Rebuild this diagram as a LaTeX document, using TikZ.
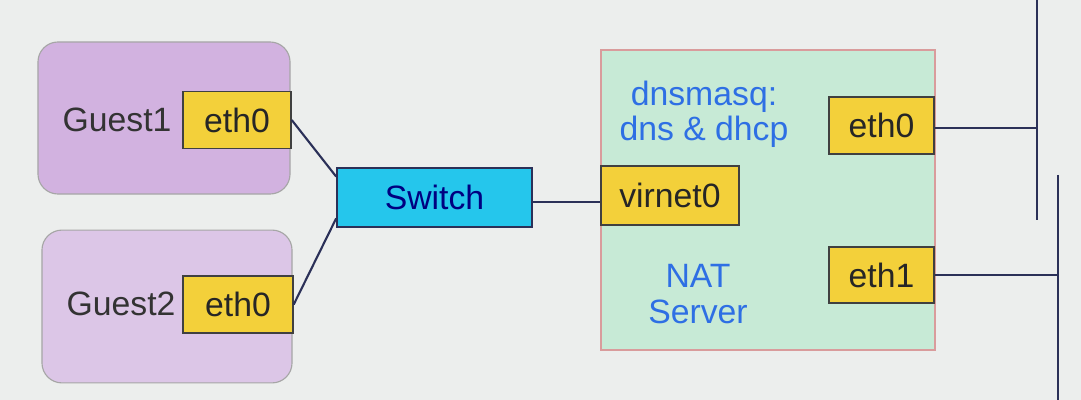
\documentclass[tikz,border=0pt]{standalone}
\usepackage{fontspec}
\setmainfont{Liberation Sans}
\definecolor{bgwall}{HTML}{ECEEED}
\definecolor{guestfill}{HTML}{D2B2E0}
\definecolor{guestfilltwo}{HTML}{DCC6E7}
\definecolor{ifyellow}{HTML}{F3D03A}
\definecolor{swcyan}{HTML}{25C6EC}
\definecolor{natfill}{HTML}{C7EAD6}
\definecolor{natedge}{HTML}{D99C9C}
\definecolor{labelblue}{HTML}{2E6FE4}
\definecolor{wire}{HTML}{2B3058}
\begin{document}
\begin{tikzpicture}[x=0.025cm,y=-0.025cm,
		font=\fontsize{24}{28}\selectfont,
		guestbox/.style={rectangle,rounded corners=0.5cm,draw=gray!70,line width=0.8pt,fill=guestfill},
		iface/.style={rectangle,draw=black!75,line width=1pt,fill=ifyellow,text=black!85,inner sep=0pt},
		wire/.style={draw=wire,line width=1.5pt},
		bus/.style={draw=wire,line width=2pt}]
		\fill[bgwall] (0,0) rectangle (1081,400);
		\useasboundingbox (0,0) rectangle (1081,400);
		% guests
		\node[guestbox,minimum width=6.3cm,minimum height=3.8cm] (g1) at (164,118) {};
		\node[guestbox,fill=guestfilltwo,minimum width=6.25cm,minimum height=3.82cm] (g2) at (167,306.5) {};
		\node[text=black!80] (g1name) at (117,120) {Guest1};
		\node[text=black!80] (g2name) at (121,304) {Guest2};
		\node[iface,minimum width=2.7cm,minimum height=1.42cm] (g1eth) at (237,120) {eth0};
		\node[iface,minimum width=2.75cm,minimum height=1.42cm] (g2eth) at (238,304.5) {eth0};
		% switch
		\node[rectangle,draw=wire,line width=1pt,fill=swcyan,text=blue!50!black,
			minimum width=4.88cm,minimum height=1.48cm] (sw) at (434.5,197.5) {Switch};
		% nat server
		\node[rectangle,draw=natedge,line width=0.8pt,fill=natfill,
			minimum width=8.35cm,minimum height=7.5cm] (nat) at (768,200) {};
		\node[text=labelblue,align=center] (dns) at (704,114) {dnsmasq:\\[-0.1cm]dns \& dhcp};
		\node[text=labelblue,align=center] (natname) at (698,294) {NAT\\[-0.1cm]Server};
		\node[iface,minimum width=3.45cm,minimum height=1.48cm] (vir) at (670,195.5) {virnet0};
		\node[iface,minimum width=2.62cm,minimum height=1.42cm] (n0) at (881.5,125.5) {eth0};
		\node[iface,minimum width=2.62cm,minimum height=1.4cm] (n1) at (881.5,275) {eth1};
		% wires
		\draw[wire] (g1eth.east) -- (sw.168);
		\draw[wire] (g2eth.east) -- (sw.192);
		\draw[wire] ([yshift=-0.11cm]sw.east) -- ([yshift=-0.11cm]sw.east -| vir.west);
		% outside lans
		\coordinate (b0top) at (1037,0);
		\coordinate (b0bot) at (1037,220);
		\coordinate (b1top) at (1058,175);
		\coordinate (b1bot) at (1058,400);
		\draw[bus] (b0top) -- (b0bot);
		\draw[bus] (b1top) -- (b1bot);
		\draw[wire] ([yshift=-0.06cm]n0.east) -- ([yshift=-0.06cm]n0.east -| b0top);
		\draw[wire] (n1.east) -- (n1.east -| b1top);
	\end{tikzpicture}
\end{document}
